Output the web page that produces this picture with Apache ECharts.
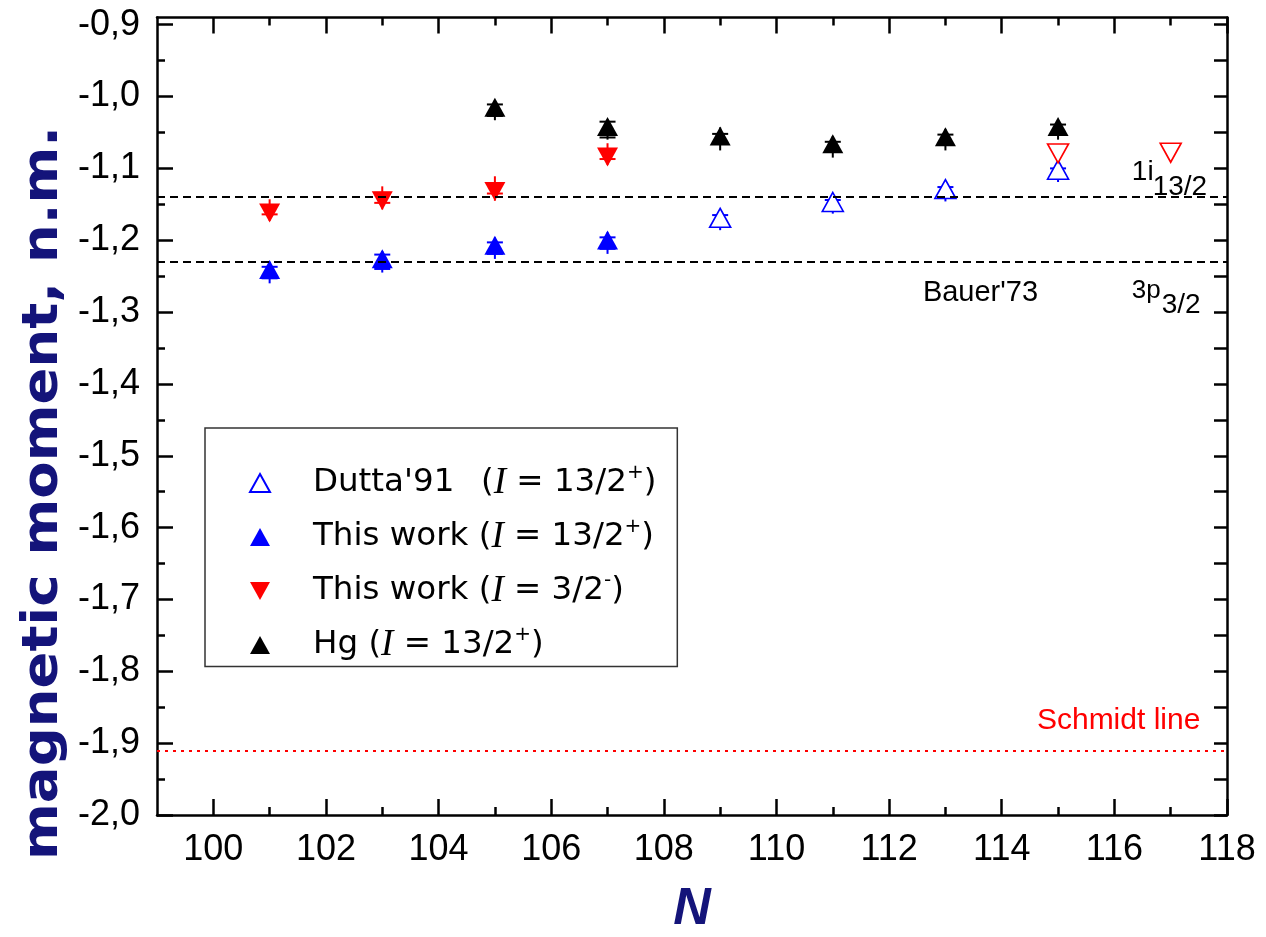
<!DOCTYPE html>
<html>
<head>
<meta charset="utf-8">
<script src="https://cdn.jsdelivr.net/npm/echarts@6/dist/echarts.min.js"></script>
<style>
  html, body { margin: 0; padding: 0; background: #fff; }
  #chart { width: 1266px; height: 937px; }
</style>
</head>
<body>
<div id="chart"></div>
<script>
// ---- data: magnetic moments (n.m.) versus neutron number N ----
const nDutta = [109, 111, 113, 115];
const muDutta = [-1.173, -1.151, -1.133, -1.106];
const capDutta = [0.008, 0.007, 0.007, 0.006];
const barDutta = [0.013, 0.012, 0.013, 0.013];

const nHigh = [101, 103, 105, 107];
const muHigh = [-1.245, -1.230, -1.211, -1.204];
const capHigh = [0.008, 0.010, 0.008, 0.008];
const barHigh = [0.015, 0.015, 0.015, 0.015];

const nLow = [101, 103, 105, 107];
const muLow = [-1.158, -1.141, -1.128, -1.080];
const capLow = [0.006, 0.007, 0.007, 0.007];
const barLow = [0.015, 0.016, 0.017, 0.015];

const nLowOpen = [115, 117];
const muLowOpen = [-1.075, -1.074];

const nHg = [105, 107, 109, 111, 113, 115];
const muHg = [-1.019, -1.046, -1.059, -1.070, -1.060, -1.046];
const capHg = [0.008, 0.011, 0.007, 0.007, 0.007, 0.007];
const barHg = [0.014, 0.014, 0.016, 0.015, 0.015, 0.014];

// reference levels
const shellLevels = [-1.142, -1.227];   // 1i13/2 and 3p3/2
const schmidtLevel = -1.908;

// axis ticks
const xMajor = [100, 102, 104, 106, 108, 110, 112, 114, 116, 118];
const xMinor = [101, 103, 105, 107, 109, 111, 113, 115, 117];
const yMajor = [-2.0, -1.9, -1.8, -1.7, -1.6, -1.5, -1.4, -1.3, -1.2, -1.1, -1.0, -0.9];
const yMinor = [-1.95, -1.85, -1.75, -1.65, -1.55, -1.45, -1.35, -1.25, -1.15, -1.05, -0.95];

const seriesNames = ["Dutta'91 (I = 13/2+)", "This work (I = 13/2+)", "This work (I = 3/2-)", "Hg (I = 13/2+)"];
const legendLabels = {
  "Dutta'91 (I = 13/2+)": "{g| }{w|Dutta'91}{t|(}{i|I}{t| = 13/2}{s|+}{t|)}",
  "This work (I = 13/2+)": "{g| }{t|This work (}{i|I}{t| = 13/2}{s|+}{t|)}",
  "This work (I = 3/2-)": "{g| }{t|This work (}{i|I}{t| = 3/2}{s|-}{t|)}",
  "Hg (I = 13/2+)": "{g| }{t|Hg (}{i|I}{t| = 13/2}{s|+}{t|)}"
};

const BLUE = '#0000ff', RED = '#ff0000', BLACK = '#000000';
const UP = 'path://M10,0L20,18L0,18Z';
const DOWN = 'path://M0,0L20,0L10,18Z';

function pairs(xs, ys) { return xs.map((x, i) => [x, ys[i]]); }

// error bars: long line for the total error, caps at the statistical error
function errorBars(xs, ys, caps, bars, color) {
  return {
    type: 'custom',
    xAxisIndex: 0, yAxisIndex: 0,
    silent: true, z: 2,
    data: xs.map((x, i) => [x, ys[i], caps[i], bars[i]]),
    encode: { x: 0, y: 1 },
    renderItem(params, api) {
      const x = api.value(0), y = api.value(1), c = api.value(2), b = api.value(3);
      const top = api.coord([x, y + b]), bot = api.coord([x, y - b]);
      const ct = api.coord([x, y + c]), cb = api.coord([x, y - c]);
      const hw = 8;
      const st = { stroke: color, lineWidth: 2 };
      return {
        type: 'group',
        children: [
          { type: 'line', shape: { x1: top[0], y1: top[1], x2: bot[0], y2: bot[1] }, style: st },
          { type: 'line', shape: { x1: ct[0] - hw, y1: ct[1], x2: ct[0] + hw, y2: ct[1] }, style: st },
          { type: 'line', shape: { x1: cb[0] - hw, y1: cb[1], x2: cb[0] + hw, y2: cb[1] }, style: st }
        ]
      };
    }
  };
}

const frame = { show: true, onZero: false, lineStyle: { color: '#000', width: 2.5 } };
const tickStyle = { color: '#000', width: 2.5 };
const labelFont = { fontFamily: 'Liberation Sans, Arial, sans-serif', fontSize: 36, color: '#000' };

function xAxisOf(position, ticks, len, withLine, withLabels) {
  return {
    type: 'value', position, min: 99, max: 118, gridIndex: 0,
    axisLine: withLine ? frame : { show: false, onZero: false },
    axisTick: { show: true, inside: true, length: len, lineStyle: tickStyle, customValues: ticks },
    axisLabel: withLabels
      ? Object.assign({ show: true, margin: 17, customValues: ticks }, labelFont)
      : { show: false },
    splitLine: { show: false }
  };
}
function yAxisOf(position, ticks, len, withLine, withLabels) {
  return {
    type: 'value', position, min: -2.0, max: -0.89, gridIndex: 0,
    axisLine: withLine ? frame : { show: false, onZero: false },
    axisTick: { show: true, inside: true, length: len, lineStyle: tickStyle, customValues: ticks },
    axisLabel: withLabels
      ? Object.assign({ show: true, margin: 17, customValues: ticks,
          formatter: v => v.toFixed(1).replace('.', ',') }, labelFont)
      : { show: false },
    splitLine: { show: false }
  };
}

const chart = echarts.init(document.getElementById('chart'), null, { renderer: 'canvas' });

const markerBase = { type: 'scatter', z: 3, symbolSize: [21, 19] };

const option = {
  animation: false,
  backgroundColor: '#fff',
  grid: { left: 157, right: 39, top: 17.5, bottom: 122, containLabel: false },
  xAxis: [
    xAxisOf('bottom', xMajor, 16, true, true),
    xAxisOf('bottom', xMinor, 8, false, false),
    xAxisOf('top', xMajor, 16, true, false),
    xAxisOf('top', xMinor, 8, false, false)
  ],
  yAxis: [
    yAxisOf('left', yMajor, 16, true, true),
    yAxisOf('left', yMinor, 8, false, false),
    yAxisOf('right', yMajor, 13, true, false),
    yAxisOf('right', yMinor, 13, false, false)
  ],
  legend: {
    orient: 'vertical',
    left: 205, top: 428,
    data: seriesNames,
    itemWidth: 20, itemHeight: 18,
    itemGap: 15.5,
    padding: [35, 21, 3, 44],
    backgroundColor: '#fff',
    borderColor: '#333', borderWidth: 1.5, borderRadius: 0,
    selectedMode: false,
    formatter: name => legendLabels[name],
    textStyle: {
      rich: {
        g: { width: 38, fontSize: 10 },
        t: { fontFamily: 'DejaVu Sans', fontSize: 32.5, lineHeight: 40, color: '#000' },
        w: { fontFamily: 'DejaVu Sans', fontSize: 32.5, lineHeight: 40, color: '#000', width: 168 },
        i: { fontFamily: 'Liberation Serif', fontStyle: 'italic', fontSize: 37, lineHeight: 40, color: '#000' },
        s: { fontFamily: 'DejaVu Sans', fontSize: 20, lineHeight: 20, verticalAlign: 'top', color: '#000' }
      }
    }
  },
  series: [
    errorBars(nDutta, muDutta, capDutta, barDutta, BLUE),
    errorBars(nHigh, muHigh, capHigh, barHigh, BLUE),
    errorBars(nLow, muLow, capLow, barLow, RED),
    errorBars(nHg, muHg, capHg, barHg, BLACK),
    Object.assign({}, markerBase, {
      name: seriesNames[0], symbol: UP, symbolOffset: [0, -3],
      itemStyle: { color: '#fff', borderColor: BLUE, borderWidth: 1.6, opacity: 1 },
      data: pairs(nDutta, muDutta)
    }),
    Object.assign({}, markerBase, {
      name: seriesNames[1], symbol: UP, symbolOffset: [0, -3],
      itemStyle: { color: BLUE, opacity: 1 },
      data: pairs(nHigh, muHigh)
    }),
    Object.assign({}, markerBase, {
      name: seriesNames[2], symbol: DOWN, symbolOffset: [0, 3],
      itemStyle: { color: RED, opacity: 1 },
      data: pairs(nLow, muLow),
      markLine: {
        silent: true, symbol: 'none', label: { show: false },
        lineStyle: { color: RED, width: 1.8, type: [3, 5], opacity: 1 },
        data: [{ yAxis: schmidtLevel }]
      }
    }),
    Object.assign({}, markerBase, {
      name: 'I = 3/2- (open)', symbol: DOWN, symbolOffset: [0, 3],
      itemStyle: { color: '#fff', borderColor: RED, borderWidth: 1.6, opacity: 1 },
      data: pairs(nLowOpen, muLowOpen)
    }),
    Object.assign({}, markerBase, {
      name: seriesNames[3], symbol: UP, symbolOffset: [0, -3],
      itemStyle: { color: BLACK, opacity: 1 },
      data: pairs(nHg, muHg),
      markLine: {
        silent: true, symbol: 'none', label: { show: false },
        lineStyle: { color: '#000', width: 2.2, type: [8, 5], opacity: 1 },
        data: shellLevels.map(v => ({ yAxis: v }))
      }
    })
  ]
};
chart.setOption(option);

// text annotations anchored in data coordinates
const notes = [
  { text: '1i', at: [116.31, -1.1057], size: 28, color: '#000' },
  { text: '13/2', at: [116.68, -1.1266], size: 28, color: '#000' },
  { text: '3p', at: [116.31, -1.2698], size: 26, color: '#000' },
  { text: '3/2', at: [116.84, -1.2907], size: 28, color: '#000' },
  { text: "Bauer'73", at: [112.60, -1.2734], size: 29, color: '#000' },
  { text: 'Schmidt line', at: [114.625, -1.8686], size: 30, color: RED }
];
const graphics = notes.map(n => {
  const p = chart.convertToPixel({ gridIndex: 0 }, n.at);
  return {
    type: 'text', x: p[0], y: p[1], z: 10,
    style: { text: n.text, fill: n.color, fontFamily: 'Liberation Sans, Arial, sans-serif',
      fontSize: n.size, align: 'left', verticalAlign: 'middle' }
  };
});
// axis titles
graphics.push({
  type: 'text', x: 44, y: 493, rotation: Math.PI / 2, scaleX: 1.09, z: 10,
  style: { text: 'magnetic moment, n.m.', fill: '#14147a', fontFamily: 'DejaVu Sans, sans-serif',
    fontWeight: 'bold', fontSize: 50, align: 'center', verticalAlign: 'middle' }
});
graphics.push({
  type: 'text', x: 692, y: 910, z: 10,
  style: { text: 'N', fill: '#14147a', fontFamily: 'Liberation Sans, Arial, sans-serif',
    fontWeight: 'bold', fontStyle: 'italic', fontSize: 52, align: 'center', verticalAlign: 'middle' }
});
chart.setOption({ graphic: graphics });
</script>
</body>
</html>
